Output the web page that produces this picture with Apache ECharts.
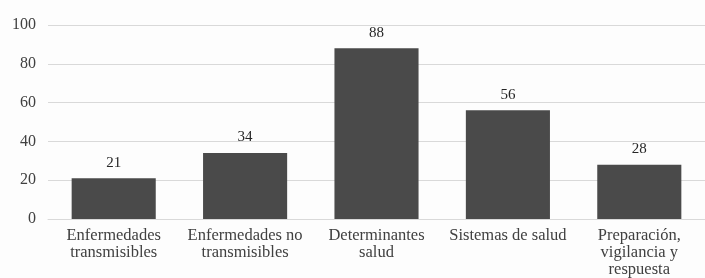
<!DOCTYPE html>
<html>
<head>
<meta charset="utf-8">
<script src="https://cdn.jsdelivr.net/npm/echarts@6/dist/echarts.min.js"></script>
<style>
    * { margin: 0; padding: 0; }
    body { background: #fdfdfd; }
</style>
</head>
<body>
<div id="chart" style="width: 705px; height: 278px;"></div>
<script>
    // datos
    var categorias = ['Enfermedades\ntransmisibles', 'Enfermedades no\ntransmisibles', 'Determinantes\nsalud', 'Sistemas de salud', 'Preparación,\nvigilancia y\nrespuesta'];
    var valores = [21, 34, 88, 56, 28];
    var fuente = '"Liberation Serif", "DejaVu Serif", serif';

    var myChart = echarts.init(document.getElementById('chart'));
    myChart.setOption({
        backgroundColor: '#fdfdfd',
        animation: false,
        grid: { left: 48, right: 0, top: 25, bottom: 58 },
        xAxis: {
            type: 'category',
            data: categorias,
            axisTick: { show: false },
            axisLine: { lineStyle: { color: '#d9d9d9' } },
            axisLabel: {
                color: '#404040',
                fontFamily: fuente,
                fontSize: 16.5,
                lineHeight: 17,
                margin: 8,
                interval: 0
            }
        },
        yAxis: {
            type: 'value',
            min: 0,
            max: 100,
            interval: 20,
            axisLine: { show: false },
            axisTick: { show: false },
            splitLine: { lineStyle: { color: '#d9d9d9' } },
            axisLabel: {
                color: '#404040',
                fontFamily: fuente,
                fontSize: 16,
                margin: 12
            }
        },
        series: [{
            type: 'bar',
            data: valores,
            barWidth: '64%',
            itemStyle: { color: '#4a4a4a' },
            label: {
                show: true,
                position: 'top',
                distance: 8,
                color: '#262626',
                fontFamily: fuente,
                fontSize: 15
            }
        }]
    });
</script>
</body>
</html>
